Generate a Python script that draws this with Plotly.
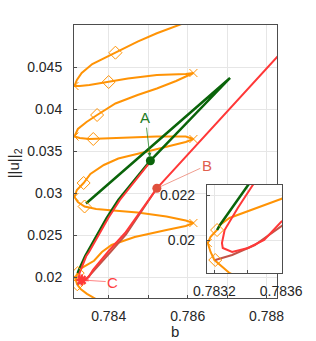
import plotly.graph_objects as go

# ---------------- data (b, ||u||_2) ----------------
snake_b = [0.78376, 0.78363, 0.78345, 0.78329, 0.78320, 0.783177, 0.78316, 0.783177, 0.783216, 0.783233, 0.78329, 0.78363,
           0.783829, 0.784073, 0.784659, 0.785463, 0.785951, 0.786146,
           0.785951, 0.785463, 0.784732, 0.784122, 0.783683, 0.78339, 0.78322, 0.783134,
           0.783195, 0.783366, 0.783537, 0.783878, 0.784244, 0.784976, 0.785585, 0.785951, 0.786146,
           0.785951, 0.78522, 0.784488, 0.783878, 0.783512, 0.783268, 0.783134,
           0.78322, 0.783439, 0.783707, 0.784171, 0.784732, 0.78522, 0.785707, 0.786, 0.786146,
           0.785951, 0.78522, 0.784488, 0.784, 0.783512, 0.783268, 0.783134,
           0.783195, 0.783317, 0.783585, 0.784171, 0.784732, 0.78522, 0.78578, 0.786317]
snake_v = [0.01714, 0.0175, 0.018, 0.018556, 0.01913, 0.01949, 0.01989, 0.02016, 0.02047, 0.02069, 0.021, 0.02193,
           0.022976, 0.023809, 0.024762, 0.025595, 0.026071, 0.026428,
           0.026726, 0.027202, 0.027678, 0.027916, 0.028095, 0.028393, 0.028929, 0.029524,
           0.030357, 0.03119, 0.032262, 0.033333, 0.034107, 0.03494, 0.035595, 0.036071, 0.036428,
           0.036726, 0.036726, 0.036607, 0.036428, 0.036428, 0.036548, 0.036726,
           0.037619, 0.038452, 0.039286, 0.040655, 0.041667, 0.04244, 0.043333, 0.043929, 0.044286,
           0.044167, 0.044048, 0.043631, 0.043214, 0.042857, 0.042738, 0.042738,
           0.043452, 0.044286, 0.045357, 0.046702, 0.048012, 0.049012, 0.05, 0.05095]

fold_b = [0.78316, 0.786146, 0.783134, 0.786146, 0.783134, 0.786146, 0.783134]
fold_v = [0.01989, 0.026428, 0.029524, 0.036428, 0.036726, 0.044286, 0.042738]

bif_b = [0.784171, 0.784, 0.783707, 0.78361, 0.783366, 0.78339, 0.783216, 0.783205]
bif_v = [0.046702, 0.043214, 0.039286, 0.036428, 0.03119, 0.028393, 0.020467, 0.019133]

green_b = [0.783427, 0.787073, 0.785056, 0.784659, 0.784244, 0.783951, 0.783683, 0.783463, 0.783402, 0.783233, 0.783216]
green_v = [0.02875, 0.04369, 0.033845, 0.031548, 0.029167, 0.027024, 0.024762, 0.022976, 0.022467, 0.020689, 0.020467]

red_b = [0.7884, 0.78522, 0.784415, 0.784, 0.783599, 0.783498, 0.783402, 0.783306, 0.78325, 0.783245, 0.783261,
         0.78334, 0.78343, 0.783503, 0.783723, 0.783991, 0.784284, 0.784699, 0.785076]
red_v = [0.04688, 0.03056, 0.025238, 0.023095, 0.020822, 0.020022, 0.019667, 0.019489, 0.019667, 0.019889, 0.020467,
         0.021444, 0.022467, 0.022976, 0.024762, 0.027024, 0.029167, 0.031548, 0.03384]

brown_b = [0.783205, 0.783306, 0.783442, 0.783599, 0.784024, 0.784439, 0.78522]
brown_v = [0.019133, 0.019356, 0.0198, 0.0206, 0.022857, 0.02506, 0.03056]

A_b, A_v = 0.785056, 0.033845
B_b, B_v = 0.78522, 0.03056
C_b, C_v = 0.783317, 0.019643

x_ticks = [0.784, 0.786, 0.788]
x_labels = ["0.784", "0.786", "0.788"]
x_grid = [0.784, 0.785, 0.786, 0.787, 0.788]
y_ticks = [0.02, 0.025, 0.03, 0.035, 0.04, 0.045]
y_labels = ["0.02", "0.025", "0.03", "0.035", "0.04", "0.045"]
ix_ticks = [0.7832, 0.7836]
ix_labels = ["0.7832", "0.7836"]
ix_grid = [0.7832, 0.7834, 0.7836]
iy_ticks = [0.02, 0.022]
iy_labels = ["0.02", "0.022"]

ORANGE = "#ff9305"
GREEN = "#0a640a"
RED = "#ff3838"
BROWN = "#c25448"
FONT = "Liberation Sans, Arial, sans-serif"

fig = go.Figure()

for xa, ya in (("x", "y"), ("x2", "y2")):
    fig.add_trace(go.Scatter(x=snake_b, y=snake_v, mode="lines", line=dict(color=ORANGE, width=2),
                             xaxis=xa, yaxis=ya, hoverinfo="skip"))
    fig.add_trace(go.Scatter(x=green_b, y=green_v, mode="lines", line=dict(color=GREEN, width=2.5),
                             xaxis=xa, yaxis=ya, hoverinfo="skip"))
    fig.add_trace(go.Scatter(x=brown_b, y=brown_v, mode="lines", line=dict(color=BROWN, width=2),
                             xaxis=xa, yaxis=ya, hoverinfo="skip"))
    fig.add_trace(go.Scatter(x=red_b, y=red_v, mode="lines", line=dict(color=RED, width=2),
                             xaxis=xa, yaxis=ya, hoverinfo="skip"))
    fig.add_trace(go.Scatter(x=bif_b, y=bif_v, mode="markers",
                             marker=dict(symbol="diamond-open", size=10, color=ORANGE, line=dict(width=1)),
                             xaxis=xa, yaxis=ya, hoverinfo="skip"))
    fig.add_trace(go.Scatter(x=fold_b, y=fold_v, mode="markers",
                             marker=dict(symbol="x-thin-open", size=8, color=ORANGE, line=dict(width=1, color=ORANGE)),
                             xaxis=xa, yaxis=ya, hoverinfo="skip"))

fig.add_trace(go.Scatter(x=[A_b], y=[A_v], mode="markers", marker=dict(size=9, color=GREEN),
                         xaxis="x", yaxis="y", hoverinfo="skip"))
fig.add_trace(go.Scatter(x=[B_b], y=[B_v], mode="markers", marker=dict(size=9, color="#e0503c"),
                         xaxis="x", yaxis="y", hoverinfo="skip"))
fig.add_trace(go.Scatter(x=[C_b], y=[C_v], mode="markers",
                         marker=dict(symbol="asterisk-open", size=9, color=RED, line=dict(width=2.5, color=RED)),
                         xaxis="x", yaxis="y", hoverinfo="skip"))

axis_common = dict(showline=True, mirror=True, linecolor="#4d4d4d", linewidth=1,
                   showgrid=True, gridcolor="#e6e6e6", gridwidth=1, zeroline=False,
                   ticks="inside", ticklen=3, tickcolor="#4d4d4d",
                   tickfont=dict(family=FONT, size=14, color="#262626"))

W, H = 316, 341
PL, PT, PR, PB = 74, 25, 291, 298          # plot-area edges in page pixels
ml, mt = PL, PT
mr, mb = W - PR, H - PB
pw = PR - PL
ph = PB - PT

fig.update_layout(
    width=W, height=H, showlegend=False,
    margin=dict(l=ml, r=mr, t=mt, b=mb, pad=0),
    paper_bgcolor="white", plot_bgcolor="white",
    font=dict(family=FONT, size=14, color="#262626"),
    xaxis=dict(range=[0.783122, 0.788268], domain=[0, (285 - PL) / pw], tickmode="array",
               tickvals=x_ticks, ticktext=x_labels, ticklabelstandoff=5, anchor="y",
               minor=dict(tickmode="array", tickvals=x_grid, showgrid=True, gridcolor="#e6e6e6",
                          ticks="inside", ticklen=3, tickcolor="#4d4d4d"),
               **axis_common),
    yaxis=dict(range=[0.0175, 0.05], domain=[0, 1], tickmode="array",
               tickvals=y_ticks, ticktext=y_labels, ticklabelstandoff=8, anchor="x", **axis_common),
    xaxis2=dict(range=[0.783155, 0.783605], domain=[(212 - PL) / pw, (290 - PL) / pw], tickmode="array",
                tickvals=ix_ticks, ticktext=ix_labels, ticklabelstandoff=5, anchor="y2",
                minor=dict(tickmode="array", tickvals=ix_grid, showgrid=True, gridcolor="#e6e6e6",
                           ticks="inside", ticklen=3, tickcolor="#4d4d4d"),
                **axis_common),
    yaxis2=dict(range=[0.018556, 0.022467], domain=[(PB - 273) / ph, (PB - 185) / ph], tickmode="array",
                tickvals=iy_ticks, ticktext=iy_labels, ticklabelstandoff=8, anchor="x2", **axis_common),
)

fig.add_annotation(x=A_b, y=A_v, xref="x", yref="y", text="A", showarrow=True, ax=-5, ay=-43,
                   arrowhead=2, arrowsize=1, arrowwidth=0.8, arrowcolor="#2e8b2e", standoff=4,
                   font=dict(family=FONT, size=15, color="#1e7b1e"))
fig.add_annotation(x=B_b, y=B_v, xref="x", yref="y", text="B", showarrow=True, ax=50, ay=-23,
                   arrowhead=0, arrowwidth=0.7, arrowcolor="#e8735f", standoff=3,
                   font=dict(family=FONT, size=15, color="#e0604f"))
fig.add_annotation(x=C_b, y=C_v, xref="x", yref="y", text="C", showarrow=True, ax=31, ay=2,
                   arrowhead=2, arrowsize=0.8, arrowwidth=0.7, arrowcolor="#ff5050", standoff=4,
                   font=dict(family=FONT, size=15, color="#ff4040"))

fig.add_annotation(x=(179 - PL) / pw, y=(PB - 331) / ph, xref="paper", yref="paper",
                   text="b", showarrow=False, xanchor="center", yanchor="middle",
                   font=dict(family=FONT, size=15, color="#262626"))
fig.add_annotation(x=(12 - PL) / pw, y=(PB - 163) / ph, xref="paper", yref="paper",
                   text="||u||<sub>2</sub>", showarrow=False, textangle=-90, xanchor="center", yanchor="middle",
                   font=dict(family=FONT, size=15, color="#262626"))

fig.write_html("out.html", config={"displayModeBar": False},
               post_script="document.body.style.margin='0';")
